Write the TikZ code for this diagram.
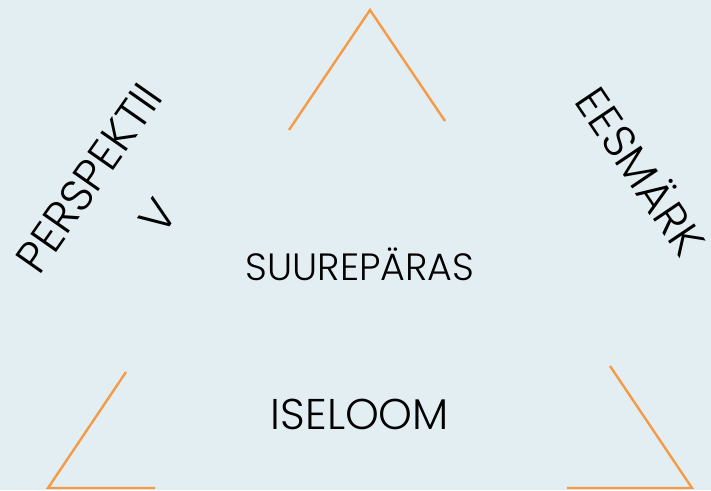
\documentclass[tikz,border=0pt]{standalone}
\usepackage{fontspec}
\setmainfont{Poppins Light}
\definecolor{bg}{HTML}{E3EEF2}
\definecolor{orng}{HTML}{F59B47}
\begin{document}
\begin{tikzpicture}[x=1pt,y=-1pt,
  edge/.style={draw=orng,line width=2.4pt,line cap=butt,line join=miter},
  lbl/.style={inner sep=0pt,text=black,anchor=center}]
\fill[bg] (0,0) rectangle (711,490);
\useasboundingbox (0,0) rectangle (711,490);
% top corner
\coordinate (ta) at (370,10);
\coordinate (tl) at (289,130);
\coordinate (tr) at (445,121);
\draw[edge] (tl) -- (ta) -- (tr);
% bottom-left corner
\coordinate (la) at (48,488);
\coordinate (lu) at (126,372);
\coordinate (lh) at (155,488);
\draw[edge] (lu) -- (la) -- (lh);
% bottom-right corner
\coordinate (ra) at (692,488);
\coordinate (ru) at (610,366);
\coordinate (rh) at (567,488);
\draw[edge] (ru) -- (ra) -- (rh);
% texts
\node[lbl] (sup) at (360,264) {\fontsize{38}{44}\selectfont SUUREPÄRAS};
\node[lbl] (ise) at (360,414) {\fontsize{43}{48}\selectfont ISELOOM};
\node[lbl,rotate=55] (per1) at (89,178) {\fontsize{45}{50}\selectfont PERSPEKTII};
\node[lbl,rotate=55] (per2) at (158,216) {\fontsize{45}{50}\selectfont V};
\node[lbl,rotate=-56] (ees) at (643,170) {\fontsize{45}{50}\selectfont EESMÄRK};
\end{tikzpicture}
\end{document}
